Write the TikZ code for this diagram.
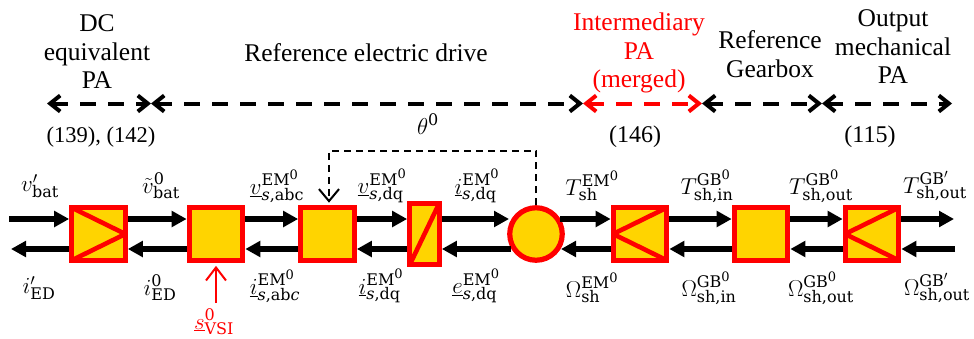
\documentclass[tikz,border=0pt]{standalone}
\usepackage{fix-cm}
\usepackage{fontspec}
\setmainfont{Liberation Serif}
\newfontfamily\scfont{DejaVu Serif}
\usetikzlibrary{arrows.meta,calc}
\definecolor{blockfill}{RGB}{255,212,0}
\DeclareMathSizes{23}{23}{16}{12}
\newcommand{\scbox}[1]{\mbox{\fontsize{16}{16}\scfont #1}}
\newcommand{\zerosup}{\raisebox{6.5pt}{\fontsize{13}{13}\scfont 0}}
\newcommand{\EMz}{\scbox{EM\zerosup}}
\newcommand{\GBz}{\scbox{GB\zerosup}}
\newcommand{\GBp}{\scbox{GB\raisebox{6.5pt}{\fontsize{13}{13}\selectfont$\prime$}}}
\newcommand{\zr}{\scbox{0}}
\newcommand{\sub}[1]{\scbox{#1}}
\newcommand{\sdq}{\scbox{\itshape s\upshape ,dq}}
\newcommand{\sabc}{\scbox{\itshape s\upshape ,abc}}
\newcommand{\sabi}{\scbox{\itshape s\upshape ,ab\itshape c}}
\tikzset{
  x=1pt,y=-1pt,
  block/.style={draw=red,fill=blockfill,line width=5.2pt,minimum width=53.5pt,minimum height=52.5pt,inner sep=0pt},
  narrow/.style={block,minimum width=29.5pt,minimum height=60.5pt},
  round/.style={draw=red,fill=blockfill,line width=5.2pt,circle,minimum size=52.5pt,inner sep=0pt},
  inside/.style={draw=red,line width=4.6pt,line join=bevel},
  flow/.style={draw=black,line width=5.4pt,-{Triangle[length=15pt,width=15.5pt]}},
  span/.style={draw=black,line width=4pt,dash pattern=on 16pt off 12pt,{Straight Barb[length=10pt,width=16pt]}-{Straight Barb[length=10pt,width=16pt]}},
  redspan/.style={span,draw=red},
  angle/.style={draw=black,line width=2pt,dash pattern=on 7pt off 5pt,-{Straight Barb[length=12pt,width=20pt]}},
  pwm/.style={draw=red,line width=2pt,-{Straight Barb[length=13pt,width=20pt]}},
  lab/.style={font=\fontsize{24}{24}\selectfont,inner sep=0pt},
  title/.style={font=\fontsize{25.5}{28.5}\selectfont,align=center,inner sep=0pt},
  var/.style={font=\fontsize{23}{23}\selectfont,inner sep=0pt}
}
\begin{document}
\begin{tikzpicture}
\useasboundingbox (0,0) rectangle (974,338);
% blocks
\node[block] (b1) at (98.5,234) {};
\node[block] (b2) at (216,234) {};
\node[block] (b3) at (327.5,234) {};
\node[narrow] (b4) at (424.5,234) {};
\node[round] (m) at (536,234) {};
\node[block] (b5) at (640,234) {};
\node[block] (b6) at (761,234) {};
\node[block] (b7) at (872,234) {};
% block marks
\draw[inside] ([shift={(2.5,2.5)}]b1.north west) -- ([shift={(-2.5,0)}]b1.east) -- ([shift={(2.5,-2.5)}]b1.south west);
\draw[inside] ([shift={(-3,3)}]b4.north east) -- ([shift={(3,-3)}]b4.south west);
\draw[inside] ([shift={(-2.5,2.5)}]b5.north east) -- ([shift={(2.5,0)}]b5.west) -- ([shift={(-2.5,-2.5)}]b5.south east);
\draw[inside] ([shift={(-2.5,2.5)}]b7.north east) -- ([shift={(2.5,0)}]b7.west) -- ([shift={(-2.5,-2.5)}]b7.south east);
% free ends
\coordinate (inT) at (9,219);
\coordinate (inB) at (11,249);
\coordinate (outT) at (954,219);
\coordinate (outB) at (955,249);
\coordinate (vsi) at (216,303);
\coordinate (p0) at (47,103.5);
\coordinate (p1) at (151,103.5);
\coordinate (p2) at (583,103.5);
\coordinate (p3) at (702,103.5);
\coordinate (p4) at (822,103.5);
\coordinate (p5) at (952,103.5);
\coordinate (fb) at (536,150.5);
\coordinate (mT) at (509,219);
\coordinate (mB) at (511,249);
\coordinate (mTo) at (560,219);
\coordinate (mBo) at (561,249);
% flows
\draw[flow] (inT) -- ([yshift=15]b1.west);
\draw[flow] ([yshift=-15]b1.west) -- (inB);
\draw[flow] ([yshift=15]b1.east) -- ([yshift=15]b2.west);
\draw[flow] ([yshift=-15]b2.west) -- ([yshift=-15]b1.east);
\draw[flow] ([yshift=15]b2.east) -- ([yshift=15]b3.west);
\draw[flow] ([yshift=-15]b3.west) -- ([yshift=-15]b2.east);
\draw[flow] ([yshift=15]b3.east) -- ([yshift=15]b4.west);
\draw[flow] ([yshift=-15]b4.west) -- ([yshift=-15]b3.east);
\draw[flow] ([yshift=15]b4.east) -- (mT);
\draw[flow] (mB) -- ([yshift=-15]b4.east);
\draw[flow] (mTo) -- ([yshift=15]b5.west);
\draw[flow] ([yshift=-15]b5.west) -- (mBo);
\draw[flow] ([yshift=15]b5.east) -- ([yshift=15]b6.west);
\draw[flow] ([yshift=-15]b6.west) -- ([yshift=-15]b5.east);
\draw[flow] ([yshift=15]b6.east) -- ([yshift=15]b7.west);
\draw[flow] ([yshift=-15]b7.west) -- ([yshift=-15]b6.east);
\draw[flow] ([yshift=15]b7.east) -- (outT);
\draw[flow] (outB) -- ([yshift=-15]b7.east);
% control
\draw[angle] (m.north) -- (fb) -| ([shift={(1.5,-2.5)}]b3.north);
\draw[pwm] (vsi) -- ([yshift=-3]b2.south);
% spans
\draw[span] (p0) -- (p1);
\draw[span] (p1) -- (p2);
\draw[redspan] (p2) -- (p3);
\draw[span] (p3) -- (p4);
\draw[span] (p4) -- (p5);
% titles
\node[title] (t1) at (97,52) {DC\\equivalent\\PA};
\node[title] (t2) at (366,53) {Reference electric drive};
\node[title,text=red] (t3) at (639,53) {Intermediary\\PA\\(merged)};
\node[title] (t4) at (770,54) {Reference\\Gearbox};
\node[title] (t5) at (893,47) {Output\\mechanical\\PA};
\node[lab,font=\fontsize{22.5}{24}\selectfont] (r1) at (101,137) {(139), (142)};
\node[lab] (r2) at (635,137) {(146)};
\node[lab] (r3) at (870,137) {(115)};
\node[var] (th) at (428,124) {$\theta^{\zr}$};
% variables
\node[var] (a1) at (40,186) {$v'_{\sub{bat}}$};
\node[var] (a2) at (161,186) {$\tilde{v}^{\zr}_{\sub{bat}}$};
\node[var] (a3) at (277,186) {$\underline{v}^{\EMz}_{\sabc}$};
\node[var] (a4) at (382,186) {$\underline{v}^{\EMz}_{\sdq}$};
\node[var] (a5) at (477,186) {$\underline{i}^{\EMz}_{\sdq}$};
\node[var] (a6) at (592,186) {$T^{\EMz}_{\sub{sh}}$};
\node[var] (a7) at (707,186) {$T^{\GBz}_{\sub{sh,in}}$};
\node[var] (a8) at (821,186) {$T^{\GBz}_{\sub{sh,out}}$};
\node[var] (a9) at (935,186) {$T^{\GBp}_{\sub{sh,out}}$};
\node[var] (c1) at (39,288) {$i'_{\sub{ED}}$};
\node[var] (c2) at (160,288) {$i^{\zr}_{\sub{ED}}$};
\node[var] (c3) at (275,286) {$\underline{i}^{\EMz}_{\sabi}$};
\node[var] (c4) at (381,286) {$\underline{i}^{\EMz}_{\sdq}$};
\node[var] (c5) at (476,286) {$\underline{e}^{\EMz}_{\sdq}$};
\node[var] (c6) at (592,288) {$\Omega^{\EMz}_{\sub{sh}}$};
\node[var] (c7) at (709,288) {$\Omega^{\GBz}_{\sub{sh,in}}$};
\node[var] (c8) at (821,288) {$\Omega^{\GBz}_{\sub{sh,out}}$};
\node[var] (c9) at (937,288) {$\Omega^{\GBp}_{\sub{sh,out}}$};
\node[var,text=red] (s) at (214,322) {$\underline{s}^{\zr}_{\sub{VSI}}$};
\end{tikzpicture}
\end{document}
